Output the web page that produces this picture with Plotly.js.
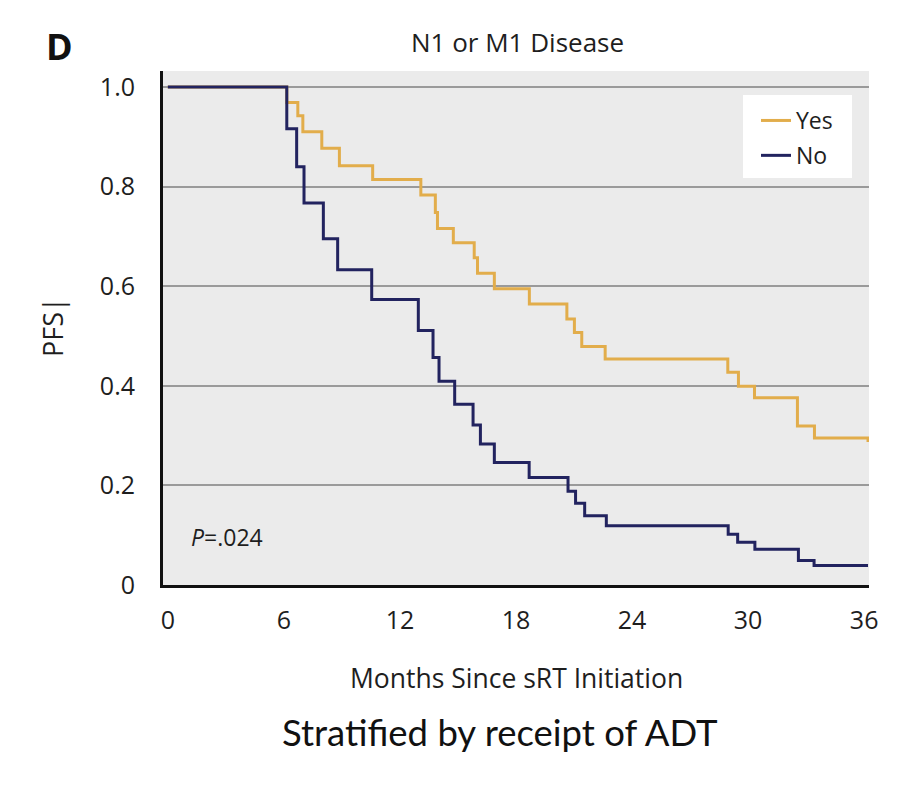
<!DOCTYPE html>
<html>
<head>
<meta charset="utf-8">
<script src="https://cdn.plot.ly/plotly-3.0.1.min.js"></script>
<style>html,body{margin:0;padding:0;background:#fff;}#chart{width:898px;height:792px;}</style>
</head>
<body>
<div id="chart"></div>
<script>
// Kaplan-Meier PFS, N1 or M1 disease, stratified by ADT
const yesMonths = [0, 6.15, 6.72, 6.98, 7.96, 8.87, 10.59, 13.08, 13.83, 13.94, 14.76, 15.84, 16.01, 16.88, 18.69, 20.63, 21.02, 21.40, 22.61, 28.95, 29.50, 30.33, 32.55, 33.43, 36.2];
const yesPFS    = [1.0, 0.969, 0.942, 0.910, 0.877, 0.842, 0.814, 0.783, 0.748, 0.716, 0.687, 0.657, 0.626, 0.595, 0.564, 0.534, 0.507, 0.479, 0.454, 0.427, 0.399, 0.376, 0.319, 0.295, 0.287];
const noMonths  = [0, 6.15, 6.66, 7.04, 8.04, 8.78, 10.54, 12.95, 13.71, 14.02, 14.83, 15.78, 16.16, 16.88, 18.68, 20.69, 21.08, 21.55, 22.67, 28.97, 29.46, 30.35, 32.60, 33.41, 36.2];
const noPFS     = [1.0, 0.916, 0.840, 0.767, 0.695, 0.633, 0.573, 0.511, 0.457, 0.409, 0.363, 0.321, 0.283, 0.246, 0.216, 0.188, 0.164, 0.139, 0.119, 0.102, 0.086, 0.072, 0.049, 0.039, 0.039];
const xTicks = [0, 6, 12, 18, 24, 30, 36];
const yTicks = [0, 0.2, 0.4, 0.6, 0.8, 1.0];
const yTickText = ['0', '0.2', '0.4', '0.6', '0.8', '1.0'];
const seriesNames = ['Yes', 'No'];

const FONT = '"Open Sans", sans-serif';
const TXT = '#1e1e1e';
const traces = [
  {x: yesMonths, y: yesPFS, name: seriesNames[0], legendgroup: 'a', type: 'scatter', mode: 'lines',
   line: {shape: 'hv', color: '#E2AD4B', width: 3}},
  {x: noMonths, y: noPFS, name: seriesNames[1], legendgroup: 'b', type: 'scatter', mode: 'lines',
   line: {shape: 'hv', color: '#22235F', width: 3}}
];

const px = v => (v - 163) / 706;   // helper: page x -> paper
const py = v => (585 - v) / 514;   // helper: page y -> paper

const layout = {
  width: 898, height: 792,
  margin: {l: 163, r: 29, t: 71, b: 207},
  paper_bgcolor: '#ffffff',
  plot_bgcolor: '#ebebeb',
  showlegend: true,
  legend: {x: px(756), y: py(99), xanchor: 'left', yanchor: 'top', bgcolor: 'rgba(0,0,0,0)',
           font: {family: FONT, size: 23, color: TXT}, itemwidth: 30,
           traceorder: 'grouped', tracegroupgap: 2},
  shapes: [
    {type: 'rect', xref: 'paper', yref: 'paper', x0: px(743), x1: px(852), y0: py(178), y1: py(95),
     fillcolor: '#ffffff', line: {width: 0}, layer: 'above'}
  ],
  xaxis: {range: [-0.25, 36.25], tickvals: xTicks, ticktext: xTicks.map(String),
          showgrid: false, zeroline: false, showline: true, linecolor: '#111', linewidth: 3,
          ticks: '', tickfont: {family: FONT, size: 25, color: TXT}, ticklabelstandoff: 11, fixedrange: true},
  yaxis: {range: [0, 1.032], tickvals: yTicks, ticktext: yTickText,
          showgrid: true, gridcolor: '#9a9a9a', gridwidth: 2, zeroline: false,
          showline: true, linecolor: '#111', linewidth: 3, ticks: '',
          tickfont: {family: FONT, size: 25, color: TXT}, ticklabelstandoff: 20, fixedrange: true},
  annotations: [
    {text: 'N1 or M1 Disease', xref: 'paper', yref: 'paper', x: px(517), y: py(42),
     xanchor: 'center', yanchor: 'middle', showarrow: false, font: {family: FONT, size: 26, color: TXT}},
    {text: '<b>D</b>', xref: 'paper', yref: 'paper', x: px(59), y: py(47),
     xanchor: 'center', yanchor: 'middle', showarrow: false, font: {family: FONT, size: 36, color: '#111'}},
    {text: 'PFS|', xref: 'paper', yref: 'paper', x: px(52), y: py(327), textangle: -90,
     xanchor: 'center', yanchor: 'middle', showarrow: false, font: {family: FONT, size: 27, color: TXT}},
    {text: '<i>P</i>=.024', xref: 'paper', yref: 'paper', x: px(189), y: py(537),
     xanchor: 'left', yanchor: 'middle', showarrow: false, font: {family: FONT, size: 23, color: TXT}},
    {text: 'Months Since sRT Initiation', xref: 'paper', yref: 'paper', x: px(516), y: py(678),
     xanchor: 'center', yanchor: 'middle', showarrow: false, font: {family: FONT, size: 26.5, color: TXT}},
    {text: 'Stratified by receipt of ADT', xref: 'paper', yref: 'paper', x: px(500), y: py(732),
     xanchor: 'center', yanchor: 'middle', showarrow: false, font: {family: 'Lato, sans-serif', size: 36.5, color: '#111'}}
  ]
};

Plotly.newPlot('chart', traces, layout, {displayModeBar: false, staticPlot: true});
</script>
</body>
</html>
